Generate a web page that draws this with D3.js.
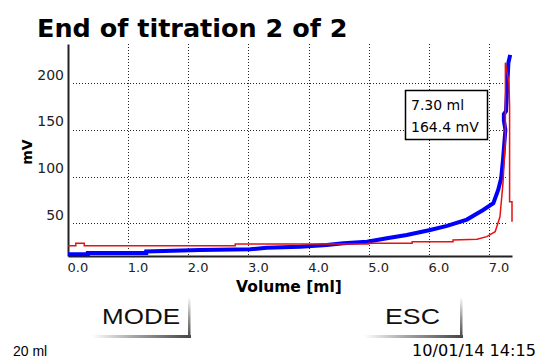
<!DOCTYPE html>
<html>
<head>
<meta charset="utf-8">
<script src="https://cdn.jsdelivr.net/npm/d3@7"></script>
<style>
    body { margin: 0; background: #fff; }
    text { font-family: "DejaVu Sans", sans-serif; }
</style>
</head>
<body>
<div id="chart"></div>
<script>
// blue curve (titration 2)
const blueVol = [0, 0.33, 0.33, 1.3, 1.3, 2.19, 3.03, 3.30, 3.86, 4.30, 4.58, 4.97, 5.30, 5.63, 6.02, 6.30, 6.63, 6.90, 7.07, 7.15, 7.20, 7.23, 7.27, 7.245, 7.245, 7.28, 7.30, 7.32, 7.35]
const blueMv = [16.8, 16.8, 18.2, 18.2, 19.8, 21.4, 22.2, 23.9, 25, 26.8, 28.6, 30.3, 34, 37.5, 42.9, 47.2, 54, 64.3, 71.5, 85.7, 98.3, 117.9, 150, 160, 167, 170, 195, 222, 230.4]

// red curve
const redVol = [0, 0.13, 0.13, 0.27, 0.27, 2.78, 2.78, 5.0, 5.0, 5.72, 5.72, 6.4, 6.4, 6.8, 6.96, 7.10, 7.18, 7.23, 7.27, 7.27, 7.33, 7.34, 7.34, 7.38, 7.38]
const redMv = [26, 26, 28.6, 28.6, 26, 26, 27.9, 27.9, 28.6, 28.6, 30.3, 30.3, 32.2, 32.9, 35.7, 41, 57, 93, 139, 222, 200, 175, 73.2, 73.2, 51.8]

const xTicks = [0, 1, 2, 3, 4, 5, 6, 7]
const yTicks = [50, 100, 150, 200]

const title = "End of titration 2 of 2"
const readout = ["7.30 ml", "164.4 mV"]
const buttons = ["MODE", "ESC"]
const footLeft = "20 ml"
const footRight = "10/01/14 14:15"

function draw() {
    let dimensions = {
        width: 541,
        height: 362,
        left: 68,
        right: 512,
        top: 44,
        bottom: 256,
    };

    const svg = d3.select('#chart')
        .append("svg")
        .attr("width", dimensions.width)
        .attr("height", dimensions.height)

    // title
    svg.append("text")
        .attr("x", 37)
        .attr("y", 37)
        .style("font-size", "25.5px")
        .style("font-weight", "bold")
        .text(title)

    //////////
    // SCALES //
    //////////
    var x = d3.scaleLinear()
        .domain([0, 7.38])
        .range([dimensions.left, dimensions.right])

    var y = d3.scaleLinear()
        .domain([15, 242])
        .range([dimensions.bottom, dimensions.top])

    // grid
    svg.append("g")
        .selectAll("line")
        .data(yTicks)
        .join("line")
        .attr("x1", dimensions.left + 5)
        .attr("x2", dimensions.right - 4)
        .attr("y1", d => Math.round(y(d)) + 0.5)
        .attr("y2", d => Math.round(y(d)) + 0.5)
        .attr("stroke", "#222")
        .attr("stroke-dasharray", "1,2")

    svg.append("g")
        .selectAll("line")
        .data(xTicks.slice(1))
        .join("line")
        .attr("x1", d => Math.round(x(d)) + 0.5)
        .attr("x2", d => Math.round(x(d)) + 0.5)
        .attr("y1", dimensions.top)
        .attr("y2", dimensions.bottom)
        .attr("stroke", "#222")
        .attr("stroke-dasharray", "1,2")

    //////////
    // AXIS //
    //////////
    var xAxis = svg.append("g")
        .attr("transform", `translate(0,${dimensions.bottom})`)
        .call(d3.axisBottom(x).tickValues(xTicks).tickFormat(d3.format(".1f")).tickSize(0))
    xAxis.select(".domain").attr("stroke", "#222").attr("stroke-width", 2)
    xAxis.selectAll("text")
        .attr("text-anchor", "start")
        .attr("dx", -1)
        .attr("dy", 0)
        .attr("y", 16)
        .style("font-size", "13px")
        .attr("fill", "#222")

    var yAxis = svg.append("g")
        .attr("transform", `translate(${dimensions.left},0)`)
        .call(d3.axisLeft(y).tickValues(yTicks).tickSize(0))
    yAxis.select(".domain").attr("stroke", "#222").attr("stroke-width", 2)
    yAxis.selectAll("text")
        .attr("x", -4)
        .attr("dy", -4)
        .style("font-size", "14px")
        .attr("fill", "#222")

    // axis labels
    svg.append("text")
        .attr("text-anchor", "middle")
        .attr("x", 289)
        .attr("y", 292)
        .style("font-size", "15.5px")
        .style("font-weight", "bold")
        .text("Volume [ml]")

    svg.append("text")
        .attr("text-anchor", "middle")
        .attr("transform", "translate(32,152) rotate(-90)")
        .style("font-size", "14px")
        .style("font-weight", "bold")
        .text("mV")

    //////////
    // CURVES //
    //////////
    var line = d3.line()
        .x(d => x(d[0]))
        .y(d => y(d[1]))

    svg.append("path")
        .datum(d3.zip(blueVol, blueMv))
        .attr("fill", "none")
        .attr("stroke", "#0000ff")
        .attr("stroke-width", 4)
        .attr("d", line)

    svg.append("path")
        .datum(d3.zip(redVol, redMv))
        .attr("fill", "none")
        .attr("stroke", "#e81010")
        .attr("stroke-width", 1.5)
        .attr("d", line)

    // readout box
    svg.append("rect")
        .attr("x", 405.5)
        .attr("y", 90.5)
        .attr("width", 82)
        .attr("height", 49)
        .attr("fill", "#fff")
        .attr("stroke", "#000")
        .attr("stroke-width", 1.5)

    svg.append("g")
        .selectAll("text")
        .data(readout)
        .join("text")
        .attr("x", 411)
        .attr("y", (d, i) => 110 + i * 22)
        .style("font-size", "14px")
        .text(d => d)

    //////////
    // BUTTONS //
    //////////
    const defs = svg.append("defs")
    defs.append("linearGradient").attr("id", "hgrad")
        .selectAll("stop")
        .data([["0%", "#fff"], ["40%", "#aaa"], ["100%", "#444"]])
        .join("stop")
        .attr("offset", d => d[0])
        .attr("stop-color", d => d[1])
    defs.append("linearGradient").attr("id", "vgrad")
        .attr("x1", 0).attr("y1", 0).attr("x2", 0).attr("y2", 1)
        .selectAll("stop")
        .data([["0%", "#fff"], ["50%", "#999"], ["100%", "#444"]])
        .join("stop")
        .attr("offset", d => d[0])
        .attr("stop-color", d => d[1])

    const btnPos = [
        { left: 92, right: 191, tx: 102, tw: 78 },
        { left: 364, right: 463, tx: 385, tw: 55 },
    ]
    const btn = svg.append("g")
        .selectAll("g")
        .data(buttons)
        .join("g")

    btn.append("rect")
        .attr("x", (d, i) => btnPos[i].left)
        .attr("y", 335)
        .attr("width", (d, i) => btnPos[i].right - btnPos[i].left)
        .attr("height", 3)
        .attr("fill", "url(#hgrad)")
    btn.append("rect")
        .attr("x", (d, i) => btnPos[i].right - 3)
        .attr("y", 297)
        .attr("width", 2.5)
        .attr("height", 41)
        .attr("fill", "url(#vgrad)")
    btn.append("text")
        .attr("x", (d, i) => btnPos[i].tx)
        .attr("y", 324)
        .attr("textLength", (d, i) => btnPos[i].tw)
        .attr("lengthAdjust", "spacingAndGlyphs")
        .style("font-family", "'Liberation Sans', sans-serif")
        .style("font-size", "22px")
        .attr("fill", "#111")
        .text(d => d)

    // footer
    svg.append("text")
        .attr("x", 13)
        .attr("y", 356)
        .style("font-family", "'Liberation Sans', sans-serif")
        .style("font-size", "14px")
        .text(footLeft)

    svg.append("text")
        .attr("x", 412)
        .attr("y", 356)
        .attr("textLength", 124)
        .attr("lengthAdjust", "spacingAndGlyphs")
        .style("font-size", "15px")
        .text(footRight)
}
draw()
</script>
</body>
</html>
